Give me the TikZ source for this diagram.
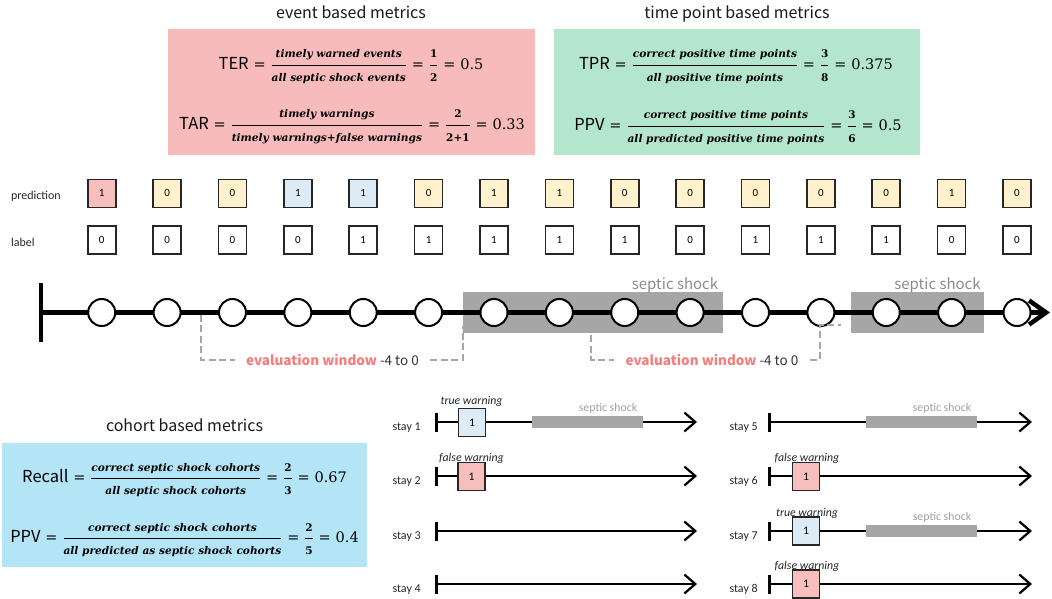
\documentclass[tikz,border=0pt]{standalone}
\usepackage{amsmath}
\usepackage{fontspec}
\setmainfont{Noto Sans CJK SC}
\newfontfamily\carl{Carlito}
\newfontfamily\dser{DejaVu Serif}
\usetikzlibrary{arrows.meta}

\definecolor{pinkbox}{HTML}{F8BBBB}
\definecolor{greenbox}{HTML}{B3E6CD}
\definecolor{bluebox}{HTML}{B3E5F6}
\definecolor{predpink}{HTML}{F8BEBE}
\definecolor{predyel}{HTML}{FFF2CC}
\definecolor{predblue}{HTML}{DDEBF7}
\definecolor{shock}{HTML}{A6A6A6}
\definecolor{shocktxt}{HTML}{8C8C8C}
\definecolor{stxt}{HTML}{A0A0A0}
\definecolor{evred}{HTML}{F47E7E}
\definecolor{dtxt}{HTML}{333333}

\newcommand{\frtxt}[1]{\mbox{\dser\bfseries\itshape\fontsize{10.6}{13}\selectfont #1}}
\newcommand{\frdig}[1]{\mbox{\dser\bfseries\fontsize{10.5}{12}\selectfont #1}}
\newcommand{\frnum}[1]{\mbox{\dser\fontsize{14.5}{17}\selectfont #1}}
\newcommand{\feq}{\mathrel{\frnum{=}}}
\newcommand{\lhs}[1]{\mbox{#1}}

\begin{document}
\begin{tikzpicture}[x=1pt,y=-1pt,
  mbox/.style={inner sep=0, outer sep=0},
  title/.style={anchor=base, font=\fontsize{16}{19}\selectfont, text=black!90},
  formula/.style={font=\fontsize{16.5}{20}\selectfont, inner sep=0},
  sq/.style={draw=black!85, line width=1.6pt, minimum size=28pt, inner sep=0, font=\carl\fontsize{11}{13}\selectfont},
  ssq/.style={draw=black!85, line width=1.5pt, minimum width=27pt, minimum height=28pt, inner sep=0, font=\carl\fontsize{11.5}{13}\selectfont},
  rowlbl/.style={anchor=base west, font=\carl\fontsize{12}{14}\selectfont, text=black!85},
  dot/.style={circle, draw, fill=white, line width=2pt, minimum size=27pt, inner sep=0},
  shocklbl/.style={anchor=base, font=\fontsize{15}{18}\selectfont, text=shocktxt},
  evlbl/.style={font=\fontsize{13.5}{16}\selectfont, text=dtxt, inner xsep=11pt, inner ysep=0},
  evline/.style={draw=shock, line width=2pt, dash pattern=on 7pt off 3.5pt},
  stayline/.style={line width=2.2pt, -{Straight Barb[length=11pt,width=19pt]}},
  staybar/.style={line width=3pt},
  shockbar/.style={draw=shock, line width=12pt},
  staylbl/.style={anchor=base west, font=\carl\fontsize{12}{14}\selectfont, text=black!85},
  sshock/.style={anchor=base, font=\carl\fontsize{11.8}{14}\selectfont, text=stxt},
  warn/.style={anchor=base, font=\carl\itshape\fontsize{11.8}{14}\selectfont, text=black!85, inner sep=0}
]
\useasboundingbox (0,0) rectangle (1052,599);

% ---------- metric boxes ----------
\node[mbox, fill=pinkbox, minimum width=367pt, minimum height=126pt] (evbox) at (351,92) {};
\node[mbox, fill=greenbox, minimum width=366pt, minimum height=126pt] (tpbox) at (737,92) {};
\node[mbox, fill=bluebox, minimum width=365pt, minimum height=124pt] (cobox) at (184.5,505) {};

\node[title] (evtitle) at (351,18.3) {event based metrics};
\node[title] (tptitle) at (737,18.3) {time point based metrics};
\node[title] (cotitle) at (184.5,431.7) {cohort based metrics};

\node[formula] (ter) at (351,66.5) {$\lhs{TER}\feq\dfrac{\frtxt{timely warned events}}{\frtxt{all septic shock events}}\feq\dfrac{\frdig{1}}{\frdig{2}}\feq\frnum{0.5}$};
\node[formula] (tar) at (352,126.5) {$\lhs{TAR}\feq\dfrac{\frtxt{timely warnings}}{\frtxt{timely warnings+false warnings}}\feq\dfrac{\frdig{2}}{\frdig{2+1}}\feq\frnum{0.33}$};
\node[formula] (tpr) at (736,66.5) {$\lhs{TPR}\feq\dfrac{\frtxt{correct positive time points}}{\frtxt{all positive time points}}\feq\dfrac{\frdig{3}}{\frdig{8}}\feq\frnum{0.375}$};
\node[formula] (ppv) at (738,127.5) {$\lhs{PPV}\feq\dfrac{\frtxt{correct positive time points}}{\frtxt{all predicted positive time points}}\feq\dfrac{\frdig{3}}{\frdig{6}}\feq\frnum{0.5}$};
\node[formula] (rec) at (184.5,480) {$\lhs{Recall}\feq\dfrac{\frtxt{correct septic shock cohorts}}{\frtxt{all septic shock cohorts}}\feq\dfrac{\frdig{2}}{\frdig{3}}\feq\frnum{0.67}$};
\node[formula] (cppv) at (184.5,540) {$\lhs{PPV}\feq\dfrac{\frtxt{correct septic shock cohorts}}{\frtxt{all predicted as septic shock cohorts}}\feq\dfrac{\frdig{2}}{\frdig{5}}\feq\frnum{0.4}$};

% ---------- prediction / label rows ----------
\node[rowlbl] (predlbl) at (7.5,199) {prediction};
\node[rowlbl] (labellbl) at (7.5,246) {label};
\foreach \v/\c [count=\i] in {1/predpink,0/predyel,0/predyel,1/predblue,1/predblue,0/predyel,1/predyel,1/predyel,0/predyel,0/predyel,0/predyel,0/predyel,0/predyel,1/predyel,0/predyel}
  \node[sq, fill=\c] (p\i) at ({101.7+65.38*(\i-1)},193.3) {\v};
\foreach \v [count=\i] in {0,0,0,0,1,1,1,1,1,0,1,1,1,0,0}
  \node[sq, fill=white] (l\i) at ({101.7+65.38*(\i-1)},240) {\v};

% ---------- timeline ----------
\node[mbox, fill=shock, minimum width=260pt, minimum height=41pt] (shock1) at (593,312.5) {};
\node[mbox, fill=shock, minimum width=133pt, minimum height=41pt] (shock2) at (917.5,312.5) {};
\node[shocklbl] (shl1) at (675,289) {septic shock};
\node[shocklbl] (shl2) at (937.5,289) {septic shock};

\coordinate (tstart) at (41,312.5);
\coordinate (tend) at (1050,312.5);
\draw[line width=4.5pt] (41,283) -- (41,342);
\draw[line width=4.5pt, -{Straight Barb[length=17pt,width=24pt]}] (tstart) -- (tend);
\foreach \i in {1,...,15}
  \node[dot] (c\i) at ({101.7+65.38*(\i-1)},312.5) {};

% evaluation windows
\node[evlbl] (ew1) at (332.5,359.5) {\textcolor{evred}{\bfseries evaluation window} -4 to 0};
\node[evlbl] (ew2) at (712,359.5) {\textcolor{evred}{\bfseries evaluation window} -4 to 0};
\coordinate (w1a) at (201,314.5);
\coordinate (w1b) at (463,326);
\coordinate (w2a) at (591,324.5);
\coordinate (w2b) at (820,324.5);
\coordinate (w2c) at (841,324.5);
\draw[evline] (w1a) |- (ew1.west);
\draw[evline] (ew1.east) -| (w1b);
\draw[evline] (w2a) |- (ew2.west);
\draw[evline] (ew2.east) -| (w2b) -- (w2c);

% ---------- stays ----------
\foreach \n/\y in {1/422,2/476,3/531,4/584} {
  \coordinate (sa\n) at (436,\y);
  \coordinate (sz\n) at (697,\y);
  \draw[staybar] (436,\y-9.5) -- (436,\y+9.5);
  \draw[stayline] (sa\n) -- (sz\n);
  \node[staylbl] (st\n) at (389,\y+8) {stay \n};
}
\foreach \n/\y in {5/422,6/476,7/531,8/584} {
  \coordinate (sa\n) at (769,\y);
  \coordinate (sz\n) at (1032,\y);
  \draw[staybar] (769,\y-9.5) -- (769,\y+9.5);
  \draw[stayline] (sa\n) -- (sz\n);
  \node[staylbl] (st\n) at (726,\y+8) {stay \n};
}
% septic shock bars on stays
\draw[shockbar] (532,422) -- (643,422);
\node[sshock] (ss1) at (608,411.5) {septic shock};
\draw[shockbar] (866,422) -- (977,422);
\node[sshock] (ss5) at (942,411.5) {septic shock};
\draw[shockbar] (866,531) -- (977,531);
\node[sshock] (ss7) at (942,520) {septic shock};

% warning boxes
\node[ssq, fill=predblue] (wb1) at (472,422.5) {1};
\node[ssq, fill=predpink] (wb2) at (471.5,476.5) {1};
\node[ssq, fill=predpink] (wb6) at (806,476.5) {1};
\node[ssq, fill=predblue] (wb7) at (806,531) {1};
\node[ssq, fill=predpink] (wb8) at (806,584) {1};
\node[warn] (wl1) at (471.5,404) {true warning};
\node[warn] (wl2) at (471.5,461) {false warning};
\node[warn] (wl6) at (807,461) {false warning};
\node[warn] (wl7) at (807,516) {true warning};
\node[warn] (wl8) at (807,569.5) {false warning};
\end{tikzpicture}
\end{document}
